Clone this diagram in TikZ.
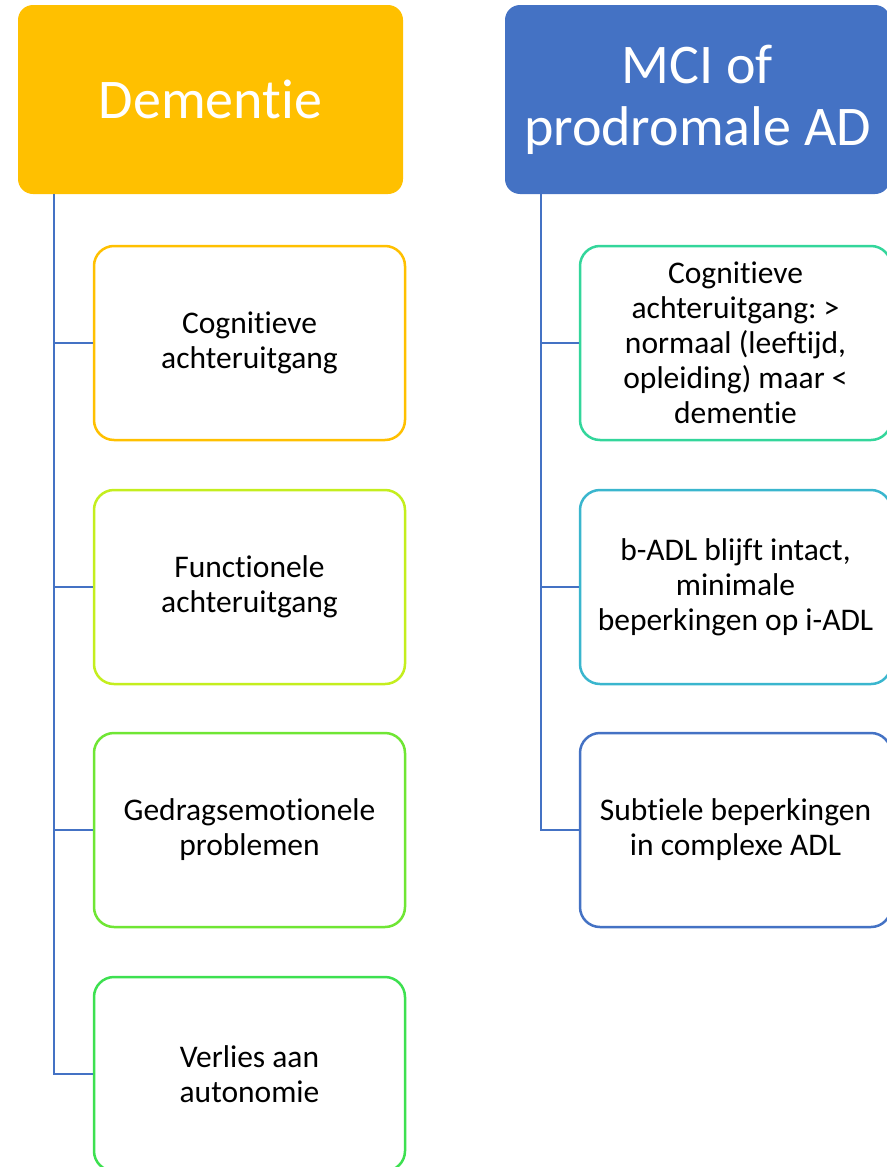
\documentclass[tikz,border=0pt]{standalone}
\usepackage{fontspec}
\setmainfont[RawFeature={-clig;-liga;-calt;-dlig}]{Carlito}
\usetikzlibrary{positioning}
\definecolor{demyellow}{HTML}{FFC000}
\definecolor{mciblue}{HTML}{4472C4}
\definecolor{limeA}{HTML}{C4EE1E}
\definecolor{greenA}{HTML}{6FE634}
\definecolor{greenB}{HTML}{3DE050}
\definecolor{tealA}{HTML}{33D69B}
\definecolor{cyanA}{HTML}{3AB6CE}
\frenchspacing

\begin{document}
\begin{tikzpicture}[x=1pt,y=-1pt,
  header/.style={rounded corners=15pt, minimum width=385pt, minimum height=189pt,
    inner sep=0pt, text=white, align=center, font=\fontsize{56}{62}\selectfont},
  item/.style={draw=#1, fill=white, line width=2.5pt, rounded corners=20pt,
    minimum width=311pt, minimum height=194pt, inner sep=0pt, align=center,
    font=\fontsize{31.5}{35}\selectfont},
  tree/.style={draw=mciblue, line width=2.5pt}]
  \useasboundingbox (0,0) rectangle (886,1167);
  % headers
  \node[header, fill=demyellow] (dem) at (210.5,99.5) {Dementie};
  \node[header, fill=mciblue] (mci) at (697.5,99.5) {MCI of\\prodromale AD};
  \coordinate (demroot) at (54,194);
  \coordinate (mciroot) at (541,194);
  % dementie
  \node[item=demyellow] (dem1) at (249.5,343) {Cognitieve\\achteruitgang};
  \node[item=limeA] (dem2) at (249.5,587) {Functionele\\achteruitgang};
  \node[item=greenA] (dem3) at (249.5,830) {Gedragsemotionele\\problemen};
  \node[item=greenB] (dem4) at (249.5,1074) {Verlies aan\\autonomie};
  % mci
  \node[item=tealA] (mci1) at (735.5,343) {Cognitieve\\achteruitgang: >\\normaal (leeftijd,\\opleiding) maar <\\dementie};
  \node[item=cyanA] (mci2) at (735.5,587) {b-ADL blijft intact,\\minimale\\beperkingen op i-ADL};
  \node[item=mciblue] (mci3) at (735.5,830) {Subtiele beperkingen\\in complexe ADL};
  % connectors
  \foreach \i in {1,...,4}
    \draw[tree] (demroot) |- (dem\i.west);
  \foreach \i in {1,...,3}
    \draw[tree] (mciroot) |- (mci\i.west);
\end{tikzpicture}
\end{document}
